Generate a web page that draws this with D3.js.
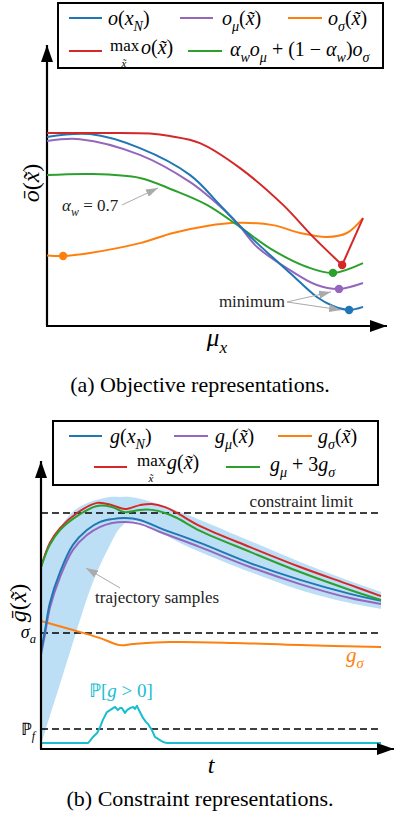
<!DOCTYPE html>
<html><head><meta charset="utf-8">
<script src="https://cdn.jsdelivr.net/npm/d3@7"></script>
<style>body{margin:0;background:#fff}svg{display:block}</style>
</head><body><svg id="c" width="400" height="818"></svg>
<script>
// ---------- DATA (a) objective representations: [mu_x, value] ----------
const objBlue   = [[0,67.3],[13.6,68.3],[29.4,63.3],[45.3,53.7],[54.7,43.1],[60.1,36.7],[66.5,29.5],[76.9,18.9],[85.4,10.3],[90.5,7.1],[95.6,5.7],[100,6.8]];
const objPurple = [[0,65.8],[10.4,66.5],[29.4,60.9],[45.3,51.2],[52.5,44.8],[60.1,36.7],[66.5,28.1],[76.9,19.9],[85.4,14.6],[92.4,13.2],[100,15.3]];
const objOrange = [[0,25.1],[5.1,24.9],[13.6,26.0],[29.4,29.5],[39.9,33.1],[50.6,35.6],[60.1,36.7],[71.5,35.9],[80.1,33.1],[88.6,31.7],[94.9,33.1],[100,38.4]];
const objRed    = [[0,68.7],[16.8,68.7],[32.6,68.5],[38.9,67.6],[48.4,65.1],[61.1,56.2],[74.7,43.1],[84.2,31.7],[93.4,21.7],[100,38.4]];
const objGreen  = [[0,53.7],[13.6,54.1],[29.4,52.7],[39.9,48.4],[50.6,43.1],[61.1,35.2],[71.5,27.0],[82.3,21.0],[90.5,18.9],[100,22.4]];

// ---------- DATA (b) constraint representations: [t, value] ----------
const conBlue   = [[0,35.0],[1.2,42.5],[2.6,52.1],[5.6,63.2],[9.4,72.9],[13.5,78.2],[17.4,81.1],[20.9,82.1],[24.7,82.5],[29.1,81.8],[35.0,78.9],[46.8,73.6],[61.5,66.4],[76.2,60.4],[90.9,55.4],[100,52.9]];
const conPurple = [[0,33.6],[1.2,41.1],[2.6,50.4],[5.6,61.4],[9.4,71.1],[13.5,76.4],[17.4,79.3],[20.9,80.7],[24.7,81.1],[29.1,80.4],[35.0,77.5],[46.8,72.1],[61.5,65.0],[76.2,58.9],[90.9,53.9],[100,51.8]];
const conOrange = [[0,45.7],[9.4,42.5],[17.4,39.6],[23.2,37.1],[27.1,37.5],[37.9,38.2],[56.5,37.9],[76.2,37.1],[100,36.4]];
const conRed    = [[0,65.0],[2.6,73.6],[5.6,78.9],[10.6,84.3],[16.5,87.9],[20.9,87.1],[24.7,85.7],[29.1,87.1],[32.6,87.5],[36.5,86.4],[40.0,84.3],[46.8,79.6],[61.5,72.1],[76.2,65.0],[90.9,58.6],[100,54.6]];
const conGreen  = [[0,65.0],[2.6,72.9],[5.6,78.2],[10.6,83.2],[16.5,86.8],[20.9,86.4],[24.7,84.6],[29.1,85.4],[32.6,85.4],[36.5,84.3],[40.0,82.5],[46.8,77.9],[61.5,70.4],[76.2,63.2],[90.9,56.8],[100,53.2]];
const conProb   = [[0,2.1],[13.8,2.1],[14.4,2.9],[15.3,4.3],[16.5,5.7],[17.4,7.9],[18.2,10.4],[19.4,13.2],[20.3,13.9],[21.2,14.6],[21.8,15.0],[22.6,13.9],[23.2,14.6],[23.8,14.6],[24.7,12.9],[25.3,13.9],[26.2,14.6],[27.1,15.0],[27.6,14.3],[28.2,15.4],[29.1,13.2],[30.0,11.1],[30.9,9.6],[31.5,8.9],[32.6,6.8],[33.5,4.3],[35.0,3.2],[35.9,2.5],[37.1,2.1],[100,2.1]];
// trajectory-sample band: [t, upper, lower]
const conBand   = [[0,65.7,1.4],[2.6,72.9,11.8],[5.6,79.3,23.2],[10.0,85.4,40.4],[14.4,88.2,56.8],[17.4,89.3,65.7],[20.3,90.0,72.9],[23.2,90.0,78.9],[26.2,90.0,81.4],[30.6,88.9,80.4],[35.0,87.1,77.5],[40.9,84.6,73.6],[46.8,81.8,70.4],[61.5,74.3,63.2],[76.2,66.8,56.8],[90.9,60.0,52.1],[100,56.1,50.0]];
const limitLevels = [["constraint limit",84.3],["sigma_a",41.4],["P_f",7.1]];

const C = {blue:"#1f77b4",purple:"#9467bd",orange:"#ff7f0e",red:"#d62728",green:"#2ca02c",cyan:"#17becf",band:"#bcdff6",gray:"#aaaaaa"};
const SERIF = "Liberation Serif, Times New Roman, serif";

const svg = d3.select("#c");
const defs = svg.append("defs");
function marker(id, color, w, h){
  defs.append("marker").attr("id",id).attr("viewBox",`0 0 ${w} ${h}`).attr("refX",w).attr("refY",h/2)
    .attr("markerWidth",w).attr("markerHeight",h).attr("markerUnits","userSpaceOnUse").attr("orient","auto")
    .append("path").attr("d",`M0,0L${w},${h/2}L0,${h}Z`).attr("fill",color);
}
marker("axArrow","#000",17,12);
marker("grArrow",C.gray,12,8);

function math(sel, x, y, parts, size, anchor){
  const t = sel.append("text").attr("x",x).attr("y",y).style("font-family",SERIF).attr("font-size",size).attr("fill","#000");
  if (anchor) t.attr("text-anchor",anchor);
  let off = 0;
  parts.forEach(p=>{
    const target = p.sub ? size*0.28 : 0;
    const ts = t.append("tspan").text(p.t).attr("dy", target-off);
    off = target;
    if (p.sub) ts.attr("font-size", size*0.7);
    if (p.i) ts.attr("font-style","italic");
    if (p.dx) ts.attr("dx",p.dx);
  });
  return t;
}
const tx = "x\u0303";
const LF = 20; // legend font size

// =================== (a) ===================
const xT = d3.scaleLinear([0,100],[47,363]);
const yT = d3.scaleLinear([0,100],[326,45]);
const gA = svg.append("g");
const smooth = d3.line().x(d=>xT(d[0])).y(d=>yT(d[1])).curve(d3.curveCatmullRom.alpha(0.5));
const linT = d3.line().x(d=>xT(d[0])).y(d=>yT(d[1]));

gA.append("line").attr("x1",xT(0)).attr("y1",yT(0)).attr("x2",xT(0)).attr("y2",yT(100)).attr("stroke","#000").attr("stroke-width",2.2).attr("marker-end","url(#axArrow)");
gA.append("line").attr("x1",xT(0)-1).attr("y1",yT(0)).attr("x2",xT(100)+24).attr("y2",yT(0)).attr("stroke","#000").attr("stroke-width",2.2).attr("marker-end","url(#axArrow)");

const objSeries = [[objOrange,C.orange],[objGreen,C.green],[objPurple,C.purple],[objBlue,C.blue]];
objSeries.forEach(([d,c])=>{
  gA.append("path").attr("d",smooth(d)).attr("fill","none").attr("stroke",c).attr("stroke-width",2);
});
const rMinIdx = d3.minIndex(objRed, d=>d[1]);
gA.append("path").attr("d",smooth(objRed.slice(0,rMinIdx+1))).attr("fill","none").attr("stroke",C.red).attr("stroke-width",2);
gA.append("path").attr("d",linT(objRed.slice(rMinIdx))).attr("fill","none").attr("stroke",C.red).attr("stroke-width",2);

[[objOrange,C.orange],[objRed,C.red],[objGreen,C.green],[objPurple,C.purple],[objBlue,C.blue]].forEach(([d,c])=>{
  const m = d3.least(d, p=>p[1]);
  gA.append("circle").attr("cx",xT(m[0])).attr("cy",yT(m[1])).attr("r",4.2).attr("fill",c);
});
gA.append("line").attr("x1",122).attr("y1",205).attr("x2",158).attr("y2",188).attr("stroke",C.gray).attr("stroke-width",1).attr("marker-end","url(#grArrow)");
math(gA,62,211,[{t:"\u03b1",i:true},{t:"w",i:true,sub:true},{t:" = 0.7"}],17).attr("fill","#222");
const mB = d3.least(objBlue,p=>p[1]), mP = d3.least(objPurple,p=>p[1]);
gA.append("line").attr("x1",287).attr("y1",302).attr("x2",xT(mP[0])-8).attr("y2",yT(mP[1])+3).attr("stroke",C.gray).attr("stroke-width",1).attr("marker-end","url(#grArrow)");
gA.append("line").attr("x1",287).attr("y1",302).attr("x2",xT(mB[0])-8).attr("y2",yT(mB[1])).attr("stroke",C.gray).attr("stroke-width",1).attr("marker-end","url(#grArrow)");
math(gA,285,307,[{t:"minimum"}],17,"end").attr("fill","#222");

math(gA,217,346,[{t:"\u03bc",i:true},{t:"x",i:true,sub:true}],25,"middle");
math(gA.append("g").attr("transform","translate(39,183) rotate(-90)"),0,0,[{t:"\u014d",i:true},{t:"("},{t:tx,i:true},{t:")"}],24,"middle");

gA.append("rect").attr("x",58).attr("y",3).attr("width",325).attr("height",65).attr("fill","#fff").attr("stroke","#000").attr("stroke-width",2);
function legLine(g,x1,x2,y,c){ g.append("line").attr("x1",x1).attr("x2",x2).attr("y1",y).attr("y2",y).attr("stroke",c).attr("stroke-width",2); }
legLine(gA,69,102,18,C.blue);   math(gA,108,25,[{t:"o",i:true},{t:"("},{t:"x",i:true},{t:"N",i:true,sub:true},{t:")"}],LF);
legLine(gA,180,213,18,C.purple);math(gA,222,25,[{t:"o",i:true},{t:"\u03bc",i:true,sub:true},{t:"("},{t:tx,i:true},{t:")"}],LF);
legLine(gA,288,322,18,C.orange);math(gA,328,25,[{t:"o",i:true},{t:"\u03c3",i:true,sub:true},{t:"("},{t:tx,i:true},{t:")"}],LF);
legLine(gA,69,102,51,C.red);
math(gA,110,51,[{t:"max"}],17);
math(gA,124,66.5,[{t:tx,i:true}],11,"middle");
math(gA,141,54,[{t:"o",i:true},{t:"("},{t:tx,i:true},{t:")"}],LF);
legLine(gA,188,222,51,C.green);
math(gA,230,56,[{t:"\u03b1",i:true},{t:"w",i:true,sub:true},{t:"o",i:true},{t:"\u03bc",i:true,sub:true},{t:" + (1 \u2212 "},{t:"\u03b1",i:true},{t:"w",i:true,sub:true},{t:")"},{t:"o",i:true},{t:"\u03c3",i:true,sub:true}],LF);

math(svg,200,392,[{t:"(a) Objective representations."}],22,"middle");

// =================== (b) ===================
const xB = d3.scaleLinear([0,100],[41,381]);
const yB = d3.scaleLinear([0,100],[749,469]);
const gB = svg.append("g");
const smoothB = d3.line().x(d=>xB(d[0])).y(d=>yB(d[1])).curve(d3.curveCatmullRom.alpha(0.5));
const linB = d3.line().x(d=>xB(d[0])).y(d=>yB(d[1]));
const area = d3.area().x(d=>xB(d[0])).y0(d=>yB(d[2])).y1(d=>yB(d[1])).curve(d3.curveCatmullRom.alpha(0.5));

gB.append("path").attr("d",area(conBand)).attr("fill",C.band);

limitLevels.forEach(([n,v])=>{
  gB.append("line").attr("x1",xB(0)).attr("x2",xB(100)).attr("y1",yB(v)).attr("y2",yB(v)).attr("stroke","#000").attr("stroke-width",1.5).attr("stroke-dasharray","7,4");
});
math(gB,353,yB(limitLevels[0][1])-6,[{t:"constraint limit"}],17,"end").attr("fill","#222");
math(gB,36,yB(limitLevels[1][1])+5,[{t:"\u03c3",i:true},{t:"a",i:true,sub:true}],18,"end");
math(gB,35,yB(limitLevels[2][1])+6,[{t:"\u2119"},{t:"f",i:true,sub:true}],17,"end");

[[conOrange,C.orange],[conPurple,C.purple],[conBlue,C.blue],[conRed,C.red],[conGreen,C.green]].forEach(([d,c])=>{
  gB.append("path").attr("d",smoothB(d)).attr("fill","none").attr("stroke",c).attr("stroke-width",2);
});
gB.append("path").attr("d",linB(conProb)).attr("fill","none").attr("stroke",C.cyan).attr("stroke-width",2).attr("stroke-linejoin","round");

gB.append("line").attr("x1",xB(0)).attr("y1",yB(0)).attr("x2",xB(0)).attr("y2",461).attr("stroke","#000").attr("stroke-width",2.2).attr("marker-end","url(#axArrow)");
gB.append("line").attr("x1",xB(0)-1).attr("y1",yB(0)).attr("x2",xB(100)+13).attr("y2",yB(0)).attr("stroke","#000").attr("stroke-width",2.2).attr("marker-end","url(#axArrow)");

gB.append("line").attr("x1",120).attr("y1",588).attr("x2",86).attr("y2",568).attr("stroke",C.gray).attr("stroke-width",1).attr("marker-end","url(#grArrow)");
math(gB,95,603,[{t:"trajectory samples"}],17).attr("fill","#222");
math(gB,346,662,[{t:"g",i:true},{t:"\u03c3",i:true,sub:true}],21).attr("fill",C.orange);
math(gB,89,697,[{t:"\u2119[",i:false},{t:"g",i:true},{t:" > 0]"}],19).attr("fill",C.cyan);

math(gB,211,773,[{t:"t",i:true}],24,"middle");
math(gB.append("g").attr("transform","translate(26,603) rotate(-90)"),0,0,[{t:"g\u0304",i:true},{t:"("},{t:tx,i:true},{t:")"}],24,"middle");

gB.append("rect").attr("x",53).attr("y",421).attr("width",325).attr("height",64).attr("fill","#fff").attr("stroke","#000").attr("stroke-width",2);
legLine(gB,69,102,436,C.blue);   math(gB,110,443,[{t:"g",i:true},{t:"("},{t:"x",i:true},{t:"N",i:true,sub:true},{t:")"}],LF);
legLine(gB,174,208,436,C.purple);math(gB,215,443,[{t:"g",i:true},{t:"\u03bc",i:true,sub:true},{t:"("},{t:tx,i:true},{t:")"}],LF);
legLine(gB,278,312,436,C.orange);math(gB,318,443,[{t:"g",i:true},{t:"\u03c3",i:true,sub:true},{t:"("},{t:tx,i:true},{t:")"}],LF);
legLine(gB,94,127,467,C.red);
math(gB,137,466,[{t:"max"}],17);
math(gB,151,481.5,[{t:tx,i:true}],11,"middle");
math(gB,167,469,[{t:"g",i:true},{t:"("},{t:tx,i:true},{t:")"}],LF);
legLine(gB,226,260,467,C.green);
math(gB,270,471,[{t:"g",i:true},{t:"\u03bc",i:true,sub:true},{t:" + 3"},{t:"g",i:true},{t:"\u03c3",i:true,sub:true}],LF);

math(svg,200,806,[{t:"(b) Constraint representations."}],22,"middle");
</script></body></html>
